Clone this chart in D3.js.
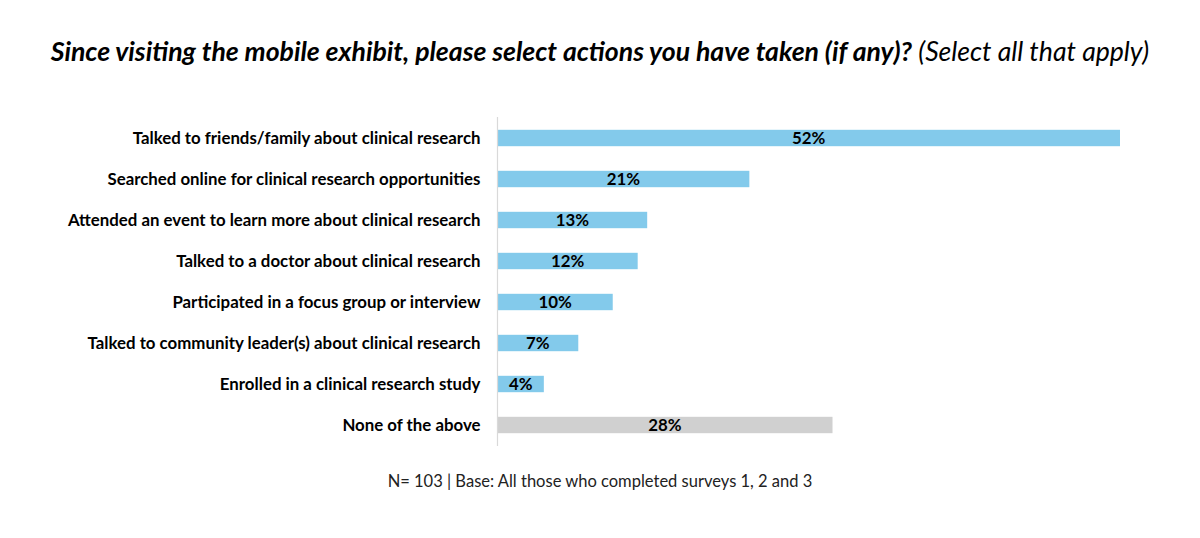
<!DOCTYPE html>
<html><head><meta charset="utf-8">
<script src="https://cdn.jsdelivr.net/npm/d3@7"></script>
<style>body{margin:0;background:#fff}svg{display:block}</style>
</head><body>
<svg id="c" width="1200" height="538"></svg>
<script>
const categories = [
  "Talked to friends/family about clinical research",
  "Searched online for clinical research opportunities",
  "Attended an event to learn more about clinical research",
  "Talked to a doctor about clinical research",
  "Participated in a focus group or interview",
  "Talked to community leader(s) about clinical research",
  "Enrolled in a clinical research study",
  "None of the above"
];
const values = [52.4, 21.2, 12.6, 11.8, 9.7, 6.8, 3.9, 28.2];
const valueLabels = ["52%", "21%", "13%", "12%", "10%", "7%", "4%", "28%"];
const isNone = [false, false, false, false, false, false, false, true];
const titleBold = "Since visiting the mobile exhibit, please select actions you have taken (if any)?";
const titleItalic = " (Select all that apply)";
const footnote = "N= 103 | Base: All those who completed surveys 1, 2 and 3";

const FONT = "Lato, 'Open Sans', sans-serif";
const svg = d3.select("#c");
const x0 = 497.5;
const x = d3.scaleLinear().domain([0, 52.4]).range([x0, 1120]);
const y = d3.scaleBand().domain(categories).range([117.5, 445.5]).paddingInner(0.6).paddingOuter(0.3);

// fit helper
function fit(sel, target) {
  const w = sel.node().getComputedTextLength();
  const fs = parseFloat(sel.attr("font-size"));
  return fs * target / w;
}

// title
const title = svg.append("text").attr("x", 600).attr("y", 61).attr("text-anchor", "middle")
  .attr("font-family", FONT).attr("font-size", 24).attr("fill", "#000");
title.append("tspan").attr("font-weight", "bold").attr("font-style", "italic").text(titleBold);
title.append("tspan").attr("font-style", "italic").text(titleItalic);
title.attr("font-size", fit(title, 1099));

// bars
svg.selectAll("rect.bar").data(categories).join("rect")
  .attr("class", "bar")
  .attr("x", x(0))
  .attr("y", d => y(d))
  .attr("width", (d, i) => x(values[i]) - x(0))
  .attr("height", y.bandwidth())
  .attr("fill", (d, i) => isNone[i] ? "#D0D0D0" : "#83CAEB");

// axis line
svg.append("line").attr("x1", x0).attr("x2", x0).attr("y1", 117).attr("y2", 446)
  .attr("stroke", "#D9D9D9").attr("stroke-width", 1.2);

// category labels via axis
const ax = svg.append("g").attr("transform", `translate(${x0 - 17},0)`)
  .call(d3.axisLeft(y).tickSize(0).tickPadding(0));
ax.select(".domain").remove();
const probe = svg.append("text").attr("font-family", FONT).attr("font-weight", "bold")
  .attr("font-size", 16).text(categories[0]);
const lfs = fit(probe, 348);
probe.remove();
ax.selectAll("text").attr("font-family", FONT).attr("font-weight", "bold")
  .attr("font-size", lfs).attr("fill", "#000").attr("dy", "0.34em");

// value labels
svg.selectAll("text.val").data(categories).join("text")
  .attr("class", "val")
  .attr("x", (d, i) => (x(0) + x(values[i])) / 2)
  .attr("y", d => y(d) + y.bandwidth() / 2)
  .attr("dy", "0.36em")
  .attr("text-anchor", "middle")
  .attr("font-family", FONT).attr("font-weight", "bold").attr("font-size", lfs)
  .attr("fill", "#000")
  .text((d, i) => valueLabels[i]);

// footnote
const fn = svg.append("text").attr("x", 600).attr("y", 487).attr("text-anchor", "middle")
  .attr("font-family", FONT).attr("font-size", 16).attr("fill", "#222").text(footnote);
fn.attr("font-size", fit(fn, 425));
</script>
</body></html>
